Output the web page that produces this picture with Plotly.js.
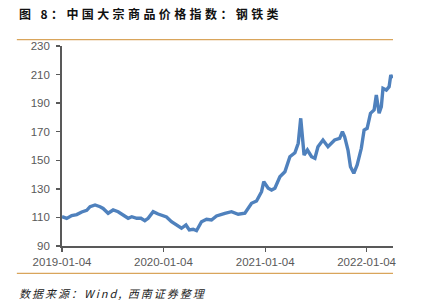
<!DOCTYPE html>
<html>
<head>
<meta charset="utf-8">
<script src="https://cdn.plot.ly/plotly-3.0.1.min.js"></script>
<style>
html,body{margin:0;padding:0;background:#fff;}
#chart{width:422px;height:302px;}
.titletxt .annotation-text{letter-spacing:3.4px;}
.sourcetxt .annotation-text{letter-spacing:2px;}
</style>
</head>
<body>
<div id="chart"></div>
<script>
var dates = [
"2019-01-04","2019-01-21","2019-02-08","2019-02-26","2019-03-16","2019-04-03","2019-04-15","2019-05-03",
"2019-05-21","2019-06-01","2019-06-19","2019-07-07","2019-07-25","2019-08-12","2019-08-30","2019-09-12",
"2019-09-30","2019-10-15","2019-10-29","2019-11-10","2019-11-28","2019-12-16","2020-01-03","2020-01-15",
"2020-02-02","2020-02-26","2020-03-09","2020-03-25","2020-04-06","2020-04-20","2020-05-02","2020-05-20",
"2020-06-07","2020-06-25","2020-07-13","2020-08-12","2020-09-05","2020-09-29","2020-10-23","2020-11-16",
"2020-12-04","2020-12-22","2020-12-30","2021-01-15","2021-01-27","2021-02-08","2021-02-26","2021-03-16",
"2021-04-03","2021-04-21","2021-05-03","2021-05-12","2021-05-24","2021-06-05","2021-06-20","2021-07-02",
"2021-07-13","2021-07-31","2021-08-18","2021-09-11","2021-09-29","2021-10-09","2021-10-17","2021-10-29",
"2021-11-07","2021-11-19","2021-12-01","2021-12-16","2021-12-26","2022-01-06","2022-01-18","2022-01-31",
"2022-02-08","2022-02-18","2022-02-26","2022-03-04","2022-03-16","2022-03-26","2022-04-01","2022-04-07"
];
var steelIndex = [
110.5,109.3,111.3,112.0,113.8,115.0,117.5,118.7,
117.5,116.3,112.9,115.2,114.0,111.7,109.4,110.5,
109.4,109.4,107.7,109.4,114.0,112.4,111.0,110.3,
107.0,103.5,102.4,104.7,101.2,101.7,100.7,107.0,
108.7,108.2,111.0,112.9,114.0,112.2,112.9,119.9,
121.5,128.0,135.0,130.4,129.2,130.4,138.5,142.0,
152.5,155.3,161.9,179.4,153.7,157.2,152.5,151.4,
159.5,164.2,159.5,164.2,165.4,170.0,166.5,157.2,
145.5,140.9,146.7,158.4,171.2,172.4,182.9,185.2,
195.7,182.9,187.5,200.4,199.2,201.5,209.7,207.4
];
var xTickVals = ["2019-01-04","2020-01-04","2021-01-04","2022-01-04"];
var xTickText = ["2019-01-04","2020-01-04","2021-01-04","2022-01-04"];
var yTickVals = [90,110,130,150,170,190,210,230];

var titleText = "图 8：中国大宗商品价格指数：钢铁类";
var sourceText = "数据来源：Wind, 西南证券整理";

var axisColor = "#595959";
var ruleColor = "#D9A55B";

var trace = {
  x: dates, y: steelIndex, type: "scatter", mode: "lines",
  line: {color: "#4F81BD", width: 3.4},
  hoverinfo: "skip"
};

var tickFont = {size: 11.5, color: axisColor, family: "Liberation Sans, Arial, sans-serif"};

var layout = {
  width: 422, height: 302,
  margin: {l: 62, r: 29, t: 46, b: 56},
  paper_bgcolor: "#fff", plot_bgcolor: "#fff",
  showlegend: false,
  font: {family: "Liberation Sans, Arial, sans-serif", color: axisColor},
  xaxis: {
    type: "date",
    range: ["2019-01-04", "2022-04-09"],
    tickmode: "array", tickvals: xTickVals, ticktext: xTickText,
    ticks: "outside", ticklen: 4, tickwidth: 1.3, tickcolor: axisColor,
    showline: true, linecolor: axisColor, linewidth: 1.8,
    showgrid: false, zeroline: false,
    tickfont: tickFont
  },
  yaxis: {
    range: [90, 230],
    tickmode: "array", tickvals: yTickVals,
    ticks: "outside", ticklen: 4, tickwidth: 1.3, tickcolor: axisColor,
    ticklabelstandoff: 4,
    showline: true, linecolor: axisColor, linewidth: 1.8,
    showgrid: false, zeroline: false,
    tickfont: tickFont
  },
  shapes: [
    {type: "line", xref: "paper", yref: "paper", x0: -0.1364, x1: 1.0, y0: 1.032, y1: 1.032,
     line: {color: ruleColor, width: 1.3}},
    {type: "line", xref: "paper", yref: "paper", x0: -0.1364, x1: 1.0, y0: -0.137, y1: -0.137,
     line: {color: ruleColor, width: 1.3}}
  ],
  annotations: [
    {text: "<b>" + titleText + "</b>", xref: "paper", yref: "paper",
     x: -0.136, y: 1.163, xanchor: "left", yanchor: "middle", align: "left", showarrow: false,
     font: {size: 12, color: "#111", family: "Noto Sans CJK SC, sans-serif"}},
    {text: "<i>" + sourceText + "</i>", xref: "paper", yref: "paper",
     x: -0.136, y: -0.235, xanchor: "left", yanchor: "middle", align: "left", showarrow: false,
     font: {size: 11, color: "#222", family: "Noto Sans CJK SC, sans-serif"}}
  ]
};

Plotly.newPlot("chart", [trace], layout, {staticPlot: true, displayModeBar: false}).then(function(){
  var anns = document.querySelectorAll(".annotation");
  if (anns.length > 0) anns[0].classList.add("titletxt");
  if (anns.length > 1) anns[1].classList.add("sourcetxt");
});
</script>
</body>
</html>
